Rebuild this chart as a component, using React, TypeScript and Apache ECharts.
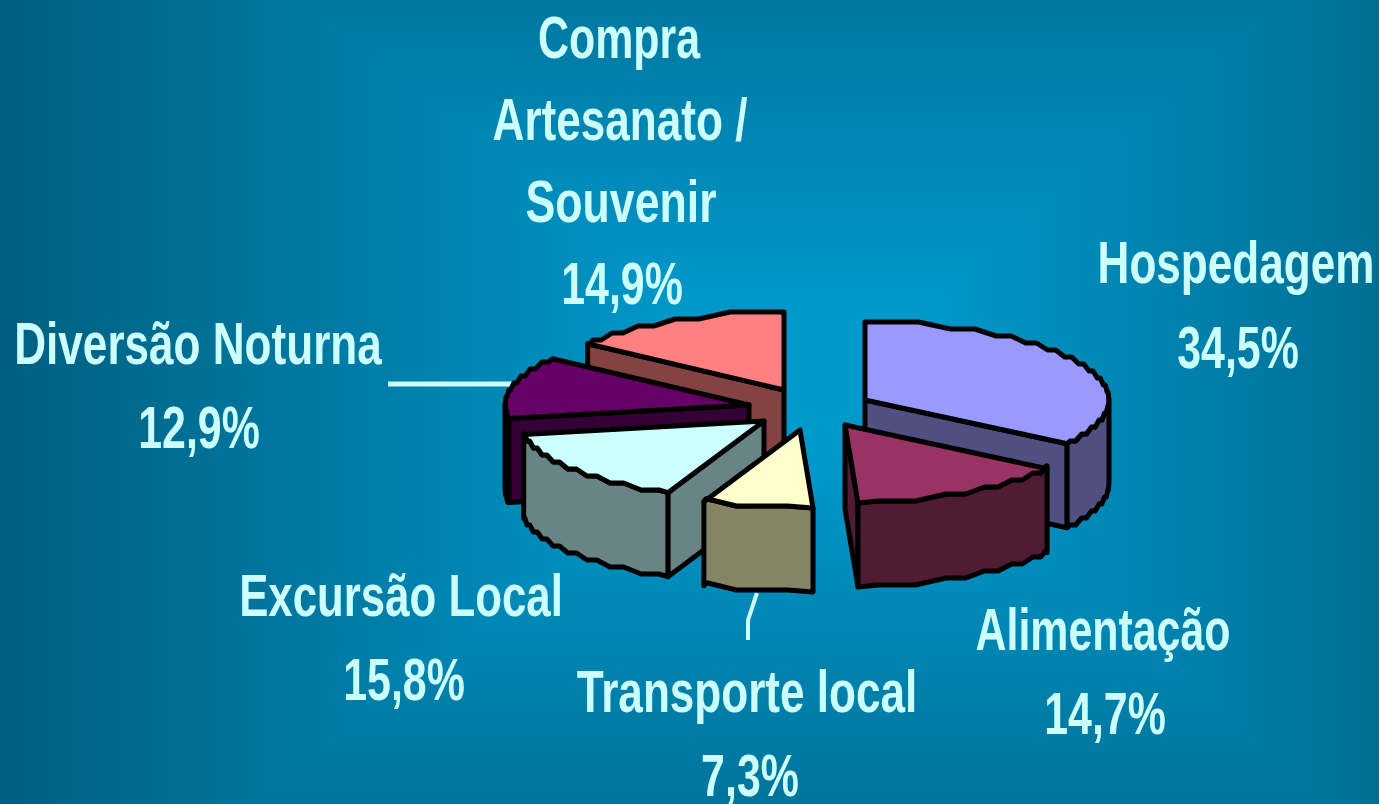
import React, { useEffect, useRef } from "react";
import * as echarts from "echarts";

const categories = ["Hospedagem", "Alimentação", "Transporte local", "Excursão Local", "Diversão Noturna", "Compra Artesanato / Souvenir"];
const values = [34.5, 14.7, 7.3, 15.8, 12.9, 14.9];
const valueLabels = ["34,5%", "14,7%", "7,3%", "15,8%", "12,9%", "14,9%"];
const labelLines = [
  ["Hospedagem", "34,5%"],
  ["Alimentação", "14,7%"],
  ["Transporte local", "7,3%"],
  ["Excursão Local", "15,8%"],
  ["Diversão Noturna", "12,9%"],
  ["Compra", "Artesanato /", "Souvenir", "14,9%"],
];

// layout (kept apart from the data)
const topColors = ["#9999FF", "#993366", "#FFFFCC", "#CCFFFF", "#660066", "#FF8080"];
const wallColors = ["#4F4F82", "#4F1B35", "#858566", "#688484", "#350035", "#854242"];
const apexX = [865, 845, 800, 764, 749, 784];
const apexY = [400, 425, 430, 421, 405, 390];
const drawOrder = [5, 4, 0, 3, 1, 2];
const labelX = [
  [1236, 1238], [1103, 1105], [747, 750], [401, 404], [198, 199], [619, 620, 621, 622],
];
const labelY = [
  [262, 347], [629, 713], [691, 775], [595, 679], [343, 427], [37, 119, 201, 283],
];
const labelScale = [
  [0.735, 0.715], [0.715, 0.715], [0.735, 0.715], [0.73, 0.715], [0.735, 0.715], [0.715, 0.735, 0.745, 0.715],
];
const RX = 244, RY = 78, DEPTH = 84;
const SNAP = 7;
const TEXT = "#CCFFFF";
const leaders = [
  { points: [[388, 384], [512, 384]], width: 5 },
  { points: [[757, 593], [748, 620], [748, 640]], width: 4 },
];
const GLOW = "#0099CC", EDGE = "#005F80";
const bgRegions = [
  { pts: [[707, 316], [304, 0], [0, 0], [0, 804], [255, 804], [707, 448]], g: [707, 400, 0, 400] },
  { pts: [[912, 316], [1281, 0], [1379, 0], [1379, 804], [1327, 804], [912, 448]], g: [912, 400, 1560, 400] },
  { pts: [[707, 316], [912, 316], [1281, 0], [304, 0]], g: [800, 316, 800, -238] },
  { pts: [[707, 448], [912, 448], [1327, 804], [255, 804]], g: [800, 448, 800, 1004] },
];

const total = values.reduce((a, b) => a + b, 0);
const rad = (d: number) => (d * Math.PI) / 180;

function angles(i: number) {
  const before = values.slice(0, i).reduce((a, b) => a + b, 0);
  return [(before / total) * 360, ((before + values[i]) / total) * 360];
}
function pt(i: number, deg: number): number[] {
  return [apexX[i] + RX * Math.sin(rad(deg)), apexY[i] - RY * Math.cos(rad(deg))];
}
// stepped outline of the rim, as in the low-resolution source picture:
// runs of equal snapped height joined by short slants
function rim(i: number, a: number, b: number): number[][] {
  const top = apexY[i] - RY;
  const runs: { y: number; x0: number; x1: number }[] = [];
  for (let d = a; d <= b; d += 0.5) {
    const p = pt(i, d);
    const y = top + Math.round((p[1] - top) / SNAP) * SNAP;
    const last = runs[runs.length - 1];
    if (last && last.y === y) last.x1 = p[0];
    else runs.push({ y, x0: p[0], x1: p[0] });
  }
  const out: number[][] = [pt(i, a)];
  runs.forEach((r) => {
    const c = (r.x1 - r.x0) * 0.25;
    out.push([r.x0 + c, r.y], [r.x1 - c, r.y]);
  });
  out.push(pt(i, b));
  return out;
}
const down = (p: number[]) => [p[0], p[1] + DEPTH];

function renderSlice(_p: any, api: any) {
  const i = api.value(0) as number;
  const [a, b] = angles(i);
  const apex = [apexX[i], apexY[i]];
  const style = (fill: string) => ({ fill, stroke: "#000", lineWidth: 5, lineJoin: "round" });
  const children: any[] = [];
  const wall = (deg: number) =>
    children.push({
      type: "polygon",
      shape: { points: [apex, pt(i, deg), down(pt(i, deg)), down(apex)] },
      style: style(wallColors[i]),
    });
  if (a > 180) wall(a);
  if (b < 180) wall(b);
  const fa = Math.max(a, 90), fb = Math.min(b, 270);
  if (fa < fb) {
    const r = rim(i, fa, fb);
    children.push({
      type: "polygon",
      shape: { points: [...r, ...r.slice().reverse().map(down)] },
      style: style(wallColors[i]),
    });
  }
  children.push({
    type: "polygon",
    shape: { points: [apex, ...rim(i, a, b)] },
    style: style(topColors[i]),
  });
  return { type: "group", children };
}

function renderLabel(_p: any, api: any) {
  const i = api.value(0) as number;
  return {
    type: "group",
    children: labelLines[i].map((t, k) => ({
      type: "text",
      x: labelX[i][k],
      y: labelY[i][k],
      scaleX: labelScale[i][k],
      style: {
        text: t,
        fill: TEXT,
        font: 'bold 60px "Liberation Sans", Arial, sans-serif',
        lineHeight: 44,
        textAlign: "center",
        textVerticalAlign: "middle",
      },
    })),
  };
}

export default function App() {
  const ref = useRef<HTMLDivElement>(null);
  useEffect(() => {
    document.body.style.margin = "0";
    const chart = echarts.init(ref.current!, undefined, { renderer: "svg" });
    chart.setOption({
      animation: false,
      graphic: [
        {
          type: "rect",
          z: -11,
          silent: true,
          shape: { x: 0, y: 0, width: 1379, height: 804 },
          style: { fill: "#0080AA" },
        },
        {
          type: "rect",
          z: -10,
          silent: true,
          shape: { x: 707, y: 316, width: 205, height: 132 },
          style: { fill: GLOW },
        },
        ...bgRegions.map((r) => {
          const fill = new echarts.graphic.LinearGradient(
            r.g[0], r.g[1], r.g[2], r.g[3],
            [{ offset: 0, color: GLOW }, { offset: 1, color: EDGE }],
            true
          );
          return {
            type: "polygon",
            z: -10,
            silent: true,
            shape: { points: r.pts },
            style: { fill, stroke: fill, lineWidth: 1 },
          };
        }),
        ...leaders.map((l) => ({
          type: "polyline",
          silent: true,
          shape: { points: l.points },
          style: { stroke: TEXT, lineWidth: l.width, fill: "none" },
        })),
      ],
      series: [
        {
          type: "custom",
          name: categories.join(", "),
          coordinateSystem: "none",
          silent: true,
          data: drawOrder.map((i) => [i, values[i], valueLabels[i]]),
          renderItem: renderSlice,
        },
        {
          type: "custom",
          coordinateSystem: "none",
          silent: true,
          data: categories.map((_c, i) => [i]),
          renderItem: renderLabel,
        },
      ],
    });
    return () => chart.dispose();
  }, []);
  return <div ref={ref} style={{ width: 1379, height: 804 }} />;
}
